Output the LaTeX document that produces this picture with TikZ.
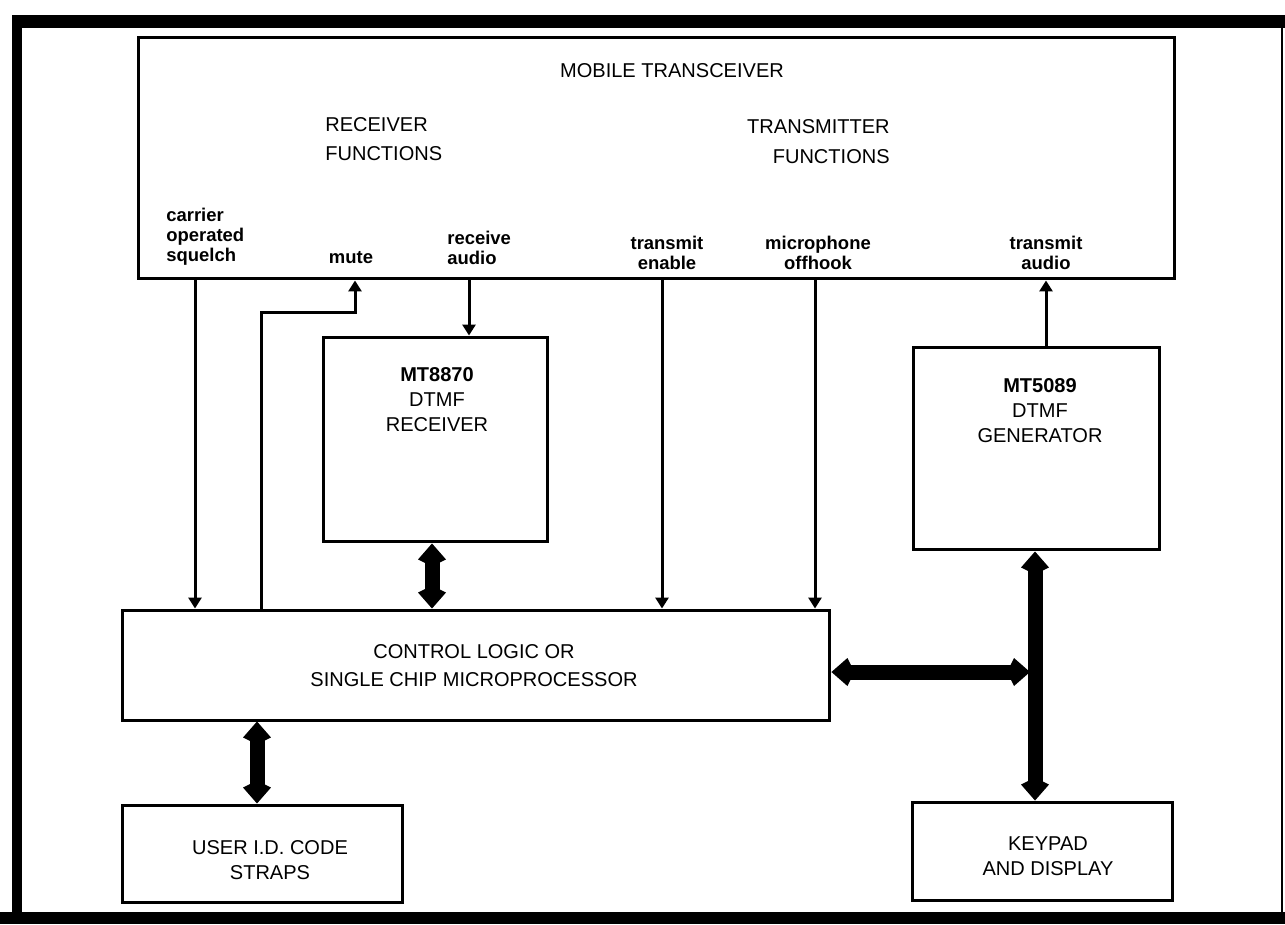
\documentclass[tikz,border=0pt]{standalone}
\usepackage{fontspec}
\setmainfont{Liberation Sans}
\usetikzlibrary{arrows.meta}

\tikzset{
  box/.style={draw, line width=0.06cm, inner sep=0pt},
  caps/.style={inner sep=0pt, font=\fontsize{11.4}{14.2}\selectfont},
  sigtext/.style={inner sep=0pt, font=\fontsize{10.5}{11.4}\selectfont\bfseries},
  sig/.style={line width=0.06cm, -{Triangle[length=0.22cm,width=0.26cm]}},
  busline/.style={line width=0.3cm,
    {Kite[length=0.46cm,width=0.56cm,inset=0.14cm]}-{Kite[length=0.46cm,width=0.56cm,inset=0.14cm]}}
}

\begin{document}
\begin{tikzpicture}[x=0.02cm, y=-0.02cm]
\useasboundingbox (0,0) rectangle (1285,924);
\fill[white] (0,0) rectangle (1285,924);

% page frame
\fill (12,15) rectangle (1285,28);
\fill (12,15) rectangle (22,918);
\fill (0,912) rectangle (1285,924);
\draw[line width=0.04cm] (1282,28) -- (1282,912);

% blocks
\node[box, minimum width=20.74cm, minimum height=4.84cm] (xcvr) at (656.5,158) {};
\node[box, minimum width=4.5cm,  minimum height=4.1cm]  (rx)   at (435.5,439.5) {};
\node[box, minimum width=4.94cm, minimum height=4.06cm] (gen)  at (1036.5,448.5) {};
\node[box, minimum width=14.16cm, minimum height=2.2cm] (ctrl) at (476,665) {};
\node[box, minimum width=5.62cm, minimum height=1.94cm] (user) at (262.5,853.5) {};
\node[box, minimum width=5.22cm, minimum height=1.96cm] (keys) at (1042.5,851) {};

% block texts
\node[caps] (title) at (672,71) {MOBILE TRANSCEIVER};
\node[caps, anchor=west, align=left, font=\fontsize{11.4}{16.5}\selectfont] (rxfn) at (325,139.5) {RECEIVER\\FUNCTIONS};
\node[caps, anchor=east, align=right, font=\fontsize{11.4}{17}\selectfont] (txfn) at (890,142) {TRANSMITTER\\FUNCTIONS};
\node[caps, align=center] (rxtxt) at (437,400) {\textbf{MT8870}\\DTMF\\RECEIVER};
\node[caps, align=center] (gentxt) at (1040,411) {\textbf{MT5089}\\DTMF\\GENERATOR};
\node[caps, align=center, font=\fontsize{11.4}{16}\selectfont] (ctrltxt) at (474,666) {CONTROL LOGIC OR\\SINGLE CHIP MICROPROCESSOR};
\node[caps, align=center] (usertxt) at (270,860.5) {USER I.D. CODE\\STRAPS};
\node[caps, align=center] (keystxt) at (1048,856.5) {KEYPAD\\AND DISPLAY};

% signal names along the transceiver's lower edge
\node[sigtext, anchor=south west, align=left] (lsq) at (166,266) {carrier\\operated\\squelch};
\node[sigtext, anchor=base] (lmute) at (351,263) {mute};
\node[sigtext, anchor=south west, align=left] (lra) at (447,265) {receive\\audio};
\node[sigtext, anchor=south, align=center] (lte) at (667,270) {transmit\\enable};
\node[sigtext, anchor=south, align=center] (lmo) at (818,270) {microphone\\offhook};
\node[sigtext, anchor=south, align=center] (lta) at (1046,270) {transmit\\audio};

% connector positions
\coordinate (sqx) at (195,0);
\coordinate (mlow) at (261,0);
\coordinate (mhigh) at (355,312);
\coordinate (rax) at (469,0);
\coordinate (tex) at (662,0);
\coordinate (mox) at (815,0);
\coordinate (tax) at (1046,0);
\coordinate (b1) at (432,0);
\coordinate (b2) at (257,0);
\coordinate (b3) at (1035,0);
\coordinate (b4) at (1030,672);

% single signal lines
\draw[sig] (xcvr.south -| sqx) -- (ctrl.north -| sqx);
\draw[sig] (ctrl.north -| mlow) |- (mhigh) -- (xcvr.south -| mhigh);
\draw[sig] (xcvr.south -| rax) -- (rx.north -| rax);
\draw[sig] (xcvr.south -| tex) -- (ctrl.north -| tex);
\draw[sig] (xcvr.south -| mox) -- (ctrl.north -| mox);
\draw[sig] (gen.north -| tax) -- (xcvr.south -| tax);

% data buses
\draw[busline] (rx.south -| b1) -- (ctrl.north -| b1);
\draw[busline] (ctrl.south -| b2) -- (user.north -| b2);
\draw[busline] (gen.south -| b3) -- (keys.north -| b3);
\draw[busline] (ctrl.east |- b4) -- (b4);
\end{tikzpicture}
\end{document}
